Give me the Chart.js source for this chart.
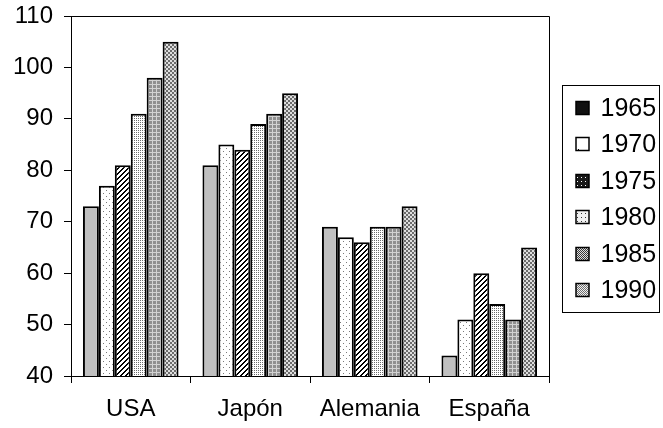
<!DOCTYPE html>
<html>
<head>
<meta charset="utf-8">
<script src="https://cdn.jsdelivr.net/npm/chart.js@4"></script>
<style>
  html, body { margin: 0; padding: 0; background: #fff; }
  canvas { display: block; }
</style>
</head>
<body>
<canvas id="chart" width="663" height="428"></canvas>
<script>
const categories = ['USA', 'Japón', 'Alemania', 'España'];
const years = ['1965', '1970', '1975', '1980', '1985', '1990'];

const v1965 = [73, 81, 69, 44];
const v1970 = [77, 85, 67, 51];
const v1975 = [81, 84, 66, 60];
const v1980 = [91, 89, 69, 54];
const v1985 = [98, 91, 69, 51];
const v1990 = [105, 95, 73, 65];

const yTicks = [40, 50, 60, 70, 80, 90, 100, 110];

// small pixel tiles to imitate the old Excel fill patterns
function tile(w, h, paint) {
  const c = document.createElement('canvas');
  c.width = w; c.height = h;
  const g = c.getContext('2d');
  for (let y = 0; y < h; y++) {
    for (let x = 0; x < w; x++) {
      g.fillStyle = paint(x, y);
      g.fillRect(x, y, 1, 1);
    }
  }
  return g.createPattern(c, 'repeat');
}

const fills = [
  '#c0c0c0',
  tile(6, 6, (x, y) => ((x === 1 && y === 1) || (x === 4 && y === 4)) ? '#7a7a7a' : '#ffffff'),
  tile(5, 5, (x, y) => ((x + y) % 5 < 2) ? '#000000' : '#ffffff'),
  tile(2, 2, (x, y) => (x === 0 && y === 0) ? '#6a6a6a' : '#ffffff'),
  tile(4, 4, (x, y) => (y === 0 || x === 0) ? '#d2d2d2' : '#8f8f8f'),
  tile(4, 4, (x, y) => ((Math.floor(x / 2) + Math.floor(y / 2)) % 2) ? '#dedede' : '#6c6c6c')
];

// the legend swatches in the original are scaled-down versions of the fills
const swatchFills = [
  '#111111',
  tile(13, 13, (x, y) => (x === 6 && y === 6) ? '#000000' : '#ffffff'),
  tile(4, 4, (x, y) => (x === 1 && y === 1) ? '#ffffff' : '#1a1a1a'),
  tile(4, 4, (x, y) => (x === 1 && y === 1) ? '#333333' : '#f0f0f0'),
  tile(2, 2, (x, y) => ((x + y) % 2) ? '#e0e0e0' : '#3a3a3a'),
  tile(2, 2, (x, y) => ((x + y) % 2) ? '#f0f0f0' : '#707070')
];

const seriesValues = [v1965, v1970, v1975, v1980, v1985, v1990];

const datasets = years.map((yr, i) => ({
  label: yr,
  data: seriesValues[i],
  backgroundColor: fills[i],
  borderColor: '#000',
  borderWidth: 2,
  borderSkipped: 'bottom',
  categoryPercentage: 0.8,
  barPercentage: 1.0
}));

const frameAndLegend = {
  id: 'frameAndLegend',
  afterDraw(chart) {
    const ctx = chart.ctx;
    const a = chart.chartArea;
    ctx.save();
    ctx.strokeStyle = '#000';
    ctx.lineWidth = 1;
    ctx.beginPath();
    ctx.moveTo(a.left, a.top + 0.5);
    ctx.lineTo(a.right + 0.5, a.top + 0.5);
    ctx.lineTo(a.right + 0.5, a.bottom + 7);
    ctx.stroke();

    // legend box
    const bx = a.right + 13.5, bw = 97;
    const step = 36.5;
    const bh = 227;
    const by = Math.round((a.top + a.bottom) / 2 + 2.5 - bh / 2) + 0.5;
    ctx.strokeRect(bx, by, bw, bh);
    ctx.font = '25px "Liberation Sans", Arial, sans-serif';
    ctx.textBaseline = 'middle';
    chart.data.datasets.forEach((ds, i) => {
      const cy = Math.round(by + 22 + i * step);
      ctx.fillStyle = swatchFills[i];
      ctx.fillRect(bx + 13.5, cy - 6.5, 13, 13);
      ctx.lineWidth = 1.5;
      ctx.strokeStyle = '#000';
      ctx.strokeRect(bx + 13.5, cy - 6.5, 13, 13);
      ctx.fillStyle = '#000';
      ctx.fillText(ds.label, bx + 38, cy + 1);
    });
    ctx.restore();
  }
};

new Chart(document.getElementById('chart'), {
  type: 'bar',
  data: { labels: categories, datasets: datasets },
  options: {
    responsive: false,
    animation: false,
    layout: { padding: { top: 16, right: 114, bottom: 0, left: 0 } },
    plugins: {
      legend: { display: false },
      tooltip: { enabled: false }
    },
    scales: {
      x: {
        grid: { offset: true, drawOnChartArea: false, tickLength: 7, color: '#000' },
        border: { color: '#000', width: 1 },
        ticks: {
          color: '#000',
          padding: 12,
          font: { family: '"Liberation Sans", Arial, sans-serif', size: 24 }
        },
        afterFit(s) { s.height = 52; s.paddingLeft = 0; s.paddingRight = 0; }
      },
      y: {
        min: 40,
        max: 110,
        afterBuildTicks(s) { s.ticks = yTicks.map(v => ({ value: v })); },
        grid: { drawOnChartArea: false, tickLength: 7, color: '#000' },
        border: { color: '#000', width: 1 },
        ticks: {
          color: '#000',
          padding: 11,
          font: { family: '"Liberation Sans", Arial, sans-serif', size: 24 }
        },
        afterFit(s) { s.width = 71; s.paddingTop = 0; s.paddingBottom = 0; }
      }
    }
  },
  plugins: [frameAndLegend]
});
</script>
</body>
</html>
